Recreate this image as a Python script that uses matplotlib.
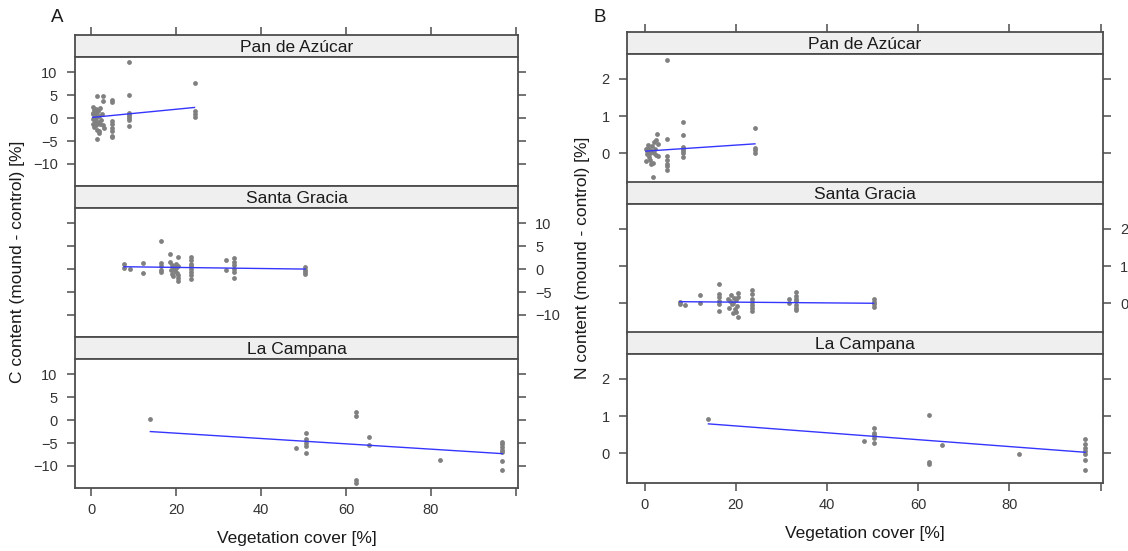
import matplotlib
matplotlib.use('Agg')
import matplotlib.pyplot as plt
import numpy as np

plt.rcParams['font.family'] = ['Liberation Sans', 'DejaVu Sans']

sites = ['Pan de Azúcar', 'Santa Gracia', 'La Campana']

# --- C content (mound - control), panel A ---
c_pan_x = [0.3, 0.3, 0.4, 0.5, 0.5, 0.6, 0.7, 0.8, 0.9, 1.0, 1.0, 1.1, 1.2, 1.3, 1.4,
           1.5, 1.6, 1.7, 1.8, 2.0, 2.1, 2.2, 2.5, 2.7, 2.8, 1.4, 2.7, 2.9, 1.9, 0.6,
           4.9, 4.9, 4.9, 4.9, 4.9, 4.9, 4.9, 4.9,
           8.9, 8.9, 8.9, 8.9, 8.9, 8.9, 8.9, 8.9,
           24.3, 24.3, 24.3, 24.3]
c_pan_y = [2.4, 1.2, -0.2, 0.8, -1.2, 1.8, -2.0, 0.4, -0.7, 2.0, -1.6, 1.0, 0.1, -2.6, 4.7,
           -0.9, 1.5, -2.9, 0.5, -1.3, 2.2, -0.4, 0.9, 4.7, -1.5, -4.6, 3.8, -2.2, -3.3, 0.0,
           3.9, 3.4, -0.6, -1.3, -2.1, -2.9, -4.0, -4.2,
           12.2, 5.0, 1.1, 0.8, 0.5, 0.0, -0.4, -1.7,
           7.7, 1.6, 0.9, 0.3]
c_sg_x = [7.7, 7.7, 9.2, 12.2, 12.2, 16.5, 16.5, 16.5, 16.5, 16.5,
          18.6, 20.4, 18.6, 19.0, 19.3, 19.6, 19.9, 20.2, 18.8, 19.5, 20.5, 18.9, 20.0, 20.5,
          20.5, 20.3, 19.2,
          23.5, 23.5, 23.5, 23.5, 23.5, 23.5, 23.5, 23.5,
          31.8, 31.8, 33.5, 33.5, 33.5, 33.5, 33.5, 33.5,
          50.4, 50.4, 50.4, 50.4]
c_sg_y = [1.0, 0.2, 0.1, 1.3, -0.9, 6.1, 1.3, 0.6, -0.1, -0.6,
          3.2, 2.6, 1.5, 0.8, 0.1, -0.5, 1.1, -0.9, -0.3, 0.4, -1.3, -1.1, 0.3, -2.0,
          -2.6, 0.7, -1.6,
          2.7, 1.9, 1.2, 0.6, 0.0, -0.6, -1.3, -2.1,
          2.0, -0.1, 2.3, 1.6, 0.8, 0.1, -0.6, -2.0,
          0.5, -0.1, -0.6, -1.1]
c_lc_x = [13.9, 48.3, 50.6, 50.6, 50.6, 50.6, 50.6, 62.4, 62.4, 62.4, 62.4, 65.3, 65.3,
          82.2, 96.8, 96.8, 96.8, 96.8, 96.8, 96.8, 96.8]
c_lc_y = [0.2, -6.1, -2.9, -4.2, -5.1, -5.6, -7.1, 1.7, 0.9, -13.1, -13.7, -3.6, -5.5,
          -8.7, -4.7, -5.3, -5.8, -6.6, -6.9, -9.0, -10.9]
c_fit = [(0.12, 0.09), (0.6, -0.012), (-1.7, -0.058)]  # intercept, slope

# --- N content (mound - control), panel B ---
n_pan_x = [0.3, 0.5, 0.6, 0.8, 0.9, 1.0, 1.1, 1.2, 1.3, 1.5, 1.6, 1.8, 2.0, 2.2, 2.4,
           2.6, 2.7, 2.9, 2.9, 1.4, 0.4, 1.9, 0.7, 2.1,
           4.95, 4.95, 4.95, 4.95, 4.95, 4.95, 4.95,
           8.45, 8.45, 8.45, 8.45, 8.45, 8.45, 8.45,
           24.2, 24.2, 24.2, 24.2]
n_pan_y = [0.12, 0.05, -0.02, 0.15, 0.08, -0.1, 0.0, 0.1, -0.18, 0.05, 0.2, -0.25, 0.3, 0.12, -0.05,
           0.35, 0.51, 0.25, -0.08, -0.3, -0.2, -0.64, 0.22, 0.02,
           2.51, 0.38, -0.07, -0.17, -0.28, -0.35, -0.44,
           0.83, 0.5, 0.17, 0.11, 0.07, 0.0, -0.09,
           0.68, 0.15, 0.08, 0.02]
n_sg_x = [7.7, 7.7, 8.95, 12.1, 12.1, 16.4, 16.4, 16.4, 16.4, 16.4, 16.4,
          20.5, 18.9, 18.3, 18.8, 19.2, 19.6, 20.0, 20.3, 18.6, 19.4, 20.1, 19.4, 20.5, 19.8, 20.4,
          23.5, 23.5, 23.5, 23.5, 23.5, 23.5, 23.5,
          31.7, 31.7, 33.3, 33.3, 33.3, 33.3, 33.3, 33.3, 33.3,
          50.2, 50.2, 50.2, 50.2]
n_sg_y = [0.04, -0.03, -0.05, 0.22, 0.02, 0.52, 0.25, 0.16, 0.07, -0.02, -0.2,
          0.28, 0.22, 0.12, 0.05, -0.02, 0.15, 0.08, -0.08, -0.12, 0.02, -0.23, -0.27, -0.38, -0.15, 0.18,
          0.36, 0.24, 0.12, 0.03, -0.06, -0.14, -0.21,
          0.11, 0.02, 0.29, 0.2, 0.11, 0.05, -0.04, -0.12, -0.18,
          0.11, 0.04, -0.02, -0.1]
n_lc_x = [14.0, 48.2, 50.4, 50.4, 50.4, 50.4, 50.4, 62.4, 62.4, 62.4, 65.2, 82.0,
          96.6, 96.6, 96.6, 96.6, 96.6, 96.6, 96.6]
n_lc_y = [0.93, 0.34, 0.67, 0.55, 0.48, 0.41, 0.28, 1.03, -0.23, -0.29, 0.23, -0.03,
          0.39, 0.26, 0.14, 0.07, -0.01, -0.17, -0.46]
n_fit = [(0.055, 0.0082), (0.05, -0.001), (0.92, -0.00925)]

W, H = 1128, 551
fig = plt.figure(figsize=(W / 100, H / 100), dpi=100)

frame = '#4d4d4d'
txt = '#1a1a1a'
xt = [0, 20, 40, 60, 80, 100]
xtl = ['0', '20', '40', '60', '80', '']
xlim = (-3.85, 100.5)


def box(l, t, r, b):
    return [l / W, 1 - b / H, (r - l) / W, (b - t) / H]


def column(l, r, tops, xs, ys, fits, yticks, ylim, ylabel, ylab_x, letter, let_x):
    strip_h, plot_h = 22, 129
    for i in range(3):
        t = tops[i]
        st = fig.add_axes(box(l, t, r, t + strip_h))
        st.set_facecolor('#efefef')
        st.set_xlim(xlim)
        st.set_yticks([])
        st.text(0.5, 0.45, sites[i], transform=st.transAxes, ha='center', va='center',
                fontsize=12.5, color=txt)
        for s in st.spines.values():
            s.set_color(frame)
            s.set_linewidth(1.3)
        if i == 0:
            st.xaxis.tick_top()
            st.set_xticks(xt)
            st.tick_params(axis='x', length=6, width=1.1, color=frame, labeltop=False)
        else:
            st.set_xticks([])

        ax = fig.add_axes(box(l, t + strip_h, r, t + strip_h + plot_h))
        ax.scatter(xs[i], ys[i], s=12, color='#808080', linewidths=0, zorder=2)
        x0, x1 = min(xs[i]), max(xs[i])
        b0, b1 = fits[i]
        ax.plot([x0, x1], [b0 + b1 * x0, b0 + b1 * x1], color='#3535ff', lw=1.0, zorder=3)
        ax.set_xlim(xlim)
        ax.set_ylim(ylim)
        ax.set_yticks(yticks)
        ax.set_xticks(xt)
        ax.set_xticklabels(xtl)
        for s in ax.spines.values():
            s.set_color(frame)
            s.set_linewidth(1.3)
        ax.tick_params(axis='y', left=True, right=True, labelleft=(i != 1), labelright=(i == 1),
                       length=6, width=1.1, color=frame, labelsize=10.5, labelcolor='#333333', pad=6.5)
        ax.tick_params(axis='x', bottom=(i == 2), labelbottom=(i == 2), top=False,
                       length=6, width=1.1, color=frame, labelsize=10.5, labelcolor='#333333', pad=5)
        if i == 2:
            ax.set_xlabel('Vegetation cover [%]', fontsize=12.5, color=txt, labelpad=10)

    mid = (tops[0] + tops[2] + strip_h + plot_h) / 2
    fig.text(ylab_x / W, 1 - mid / H, ylabel, rotation=90, ha='center', va='center',
             fontsize=12.5, color=txt)
    fig.text(let_x / W, 1 - 18 / H, letter, ha='center', va='center', fontsize=13.5, color=txt)


column(75, 518, [35, 186, 337], [c_pan_x, c_sg_x, c_lc_x], [c_pan_y, c_sg_y, c_lc_y], c_fit,
       [-10, -5, 0, 5, 10], (-14.8, 13.3), 'C content (mound - control) [%]', 18, 'A', 57)
column(627, 1103, [32, 182, 332], [n_pan_x, n_sg_x, n_lc_x], [n_pan_y, n_sg_y, n_lc_y], n_fit,
       [0, 1, 2], (-0.8, 2.67), 'N content (mound - control) [%]', 583, 'B', 600)

fig.savefig('out.png', dpi=100, facecolor='white')
